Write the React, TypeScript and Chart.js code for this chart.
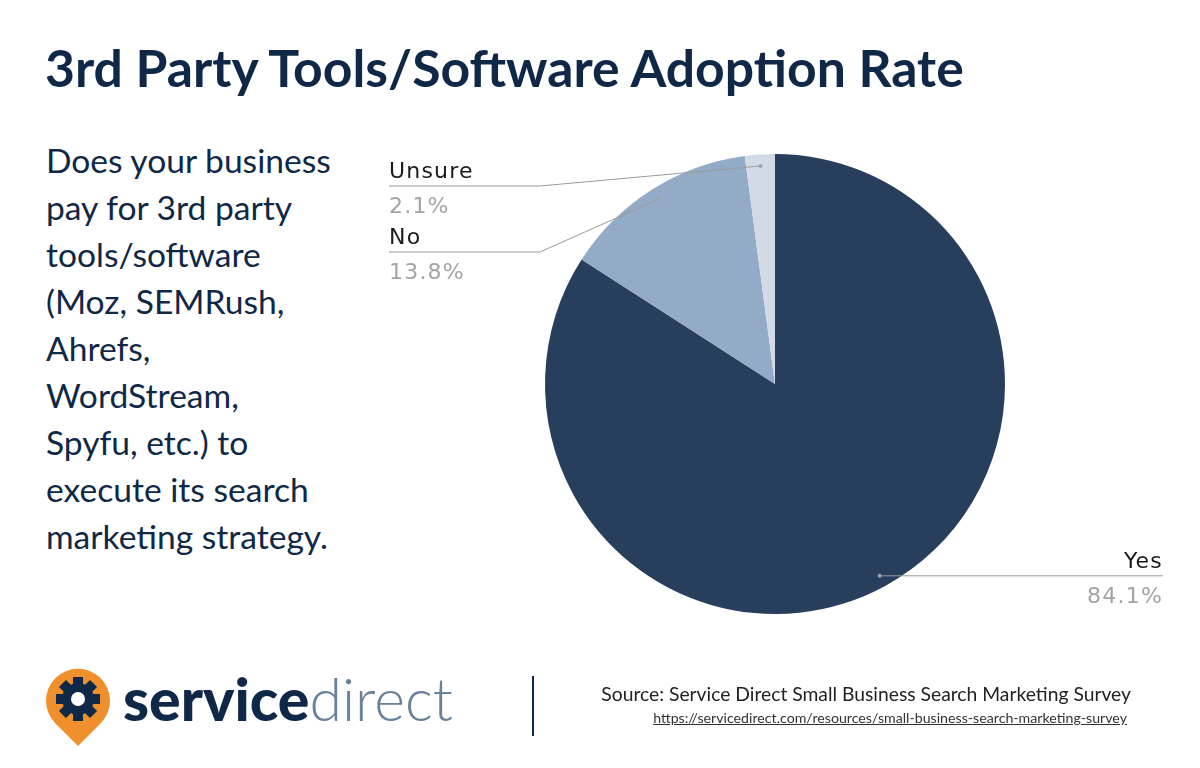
import React, { useEffect, useRef } from "react";
import { Chart, registerables } from "chart.js";

Chart.register(...registerables);

const categories = ["Yes", "No", "Unsure"];
const shares = [84.1, 13.8, 2.1];
const sliceColors = ["#273f5d", "#93abc6", "#d2dbe5"];

const titleText = "3rd Party Tools/Software Adoption Rate";
const questionLines = [
  "Does your business",
  "pay for 3rd party",
  "tools/software",
  "(Moz, SEMRush,",
  "Ahrefs,",
  "WordStream,",
  "Spyfu, etc.) to",
  "execute its search",
  "marketing strategy.",
];
const sourceText = "Source: Service Direct Small Business Search Marketing Survey";
const sourceUrl = "https://servicedirect.com/resources/small-business-search-marketing-survey";

// label layout (page pixels): side, y of horizontal leader, x of text edge / elbow
const labelLayout = [
  { side: "right", lineY: null as number | null, x: 1163, elbowX: 0 },
  { side: "left", lineY: 252, x: 389, elbowX: 540 },
  { side: "left", lineY: 186, x: 389, elbowX: 540 },
];

const navy = "#0f2847";

const leaderPlugin = {
  id: "leaderLabels",
  afterDatasetsDraw(chart: any) {
    const ctx = chart.ctx as CanvasRenderingContext2D;
    const meta = chart.getDatasetMeta(0);
    meta.data.forEach((arc: any, i: number) => {
      const p = arc.getProps(["x", "y", "startAngle", "endAngle", "outerRadius"], true);
      const mid = (p.startAngle + p.endAngle) / 2;
      const r = p.outerRadius * 0.95;
      const dx = p.x + Math.cos(mid) * r;
      const dy = p.y + Math.sin(mid) * r;
      const lay = labelLayout[i];
      const lineY = lay.lineY == null ? dy : lay.lineY;
      ctx.save();
      ctx.strokeStyle = "#9a9a9a";
      ctx.lineWidth = 1;
      ctx.beginPath();
      if (lay.side === "right") {
        ctx.moveTo(dx, lineY);
        ctx.lineTo(lay.x, lineY);
      } else {
        ctx.moveTo(lay.x, lineY);
        ctx.lineTo(lay.elbowX, lineY);
        ctx.lineTo(dx, dy);
      }
      ctx.stroke();
      ctx.fillStyle = "#9aa4ae";
      ctx.beginPath();
      ctx.arc(dx, dy, 2, 0, Math.PI * 2);
      ctx.fill();
      ctx.font = "22px 'DejaVu Sans'";
      (ctx as any).letterSpacing = "1.2px";
      ctx.textAlign = lay.side === "right" ? "right" : "left";
      ctx.textBaseline = "alphabetic";
      ctx.fillStyle = "#1a1a1a";
      ctx.fillText(categories[i], lay.x, lineY - 8);
      ctx.fillStyle = "#a3a3a3";
      ctx.fillText(shares[i].toFixed(1) + "%", lay.x, lineY + 27);
      ctx.restore();
    });
  },
};

function PieChart() {
  const ref = useRef<HTMLCanvasElement | null>(null);
  useEffect(() => {
    if (!ref.current) return;
    const chart = new Chart(ref.current, {
      type: "pie",
      data: {
        labels: categories,
        datasets: [
          {
            data: shares,
            backgroundColor: sliceColors,
            borderWidth: 0,
          },
        ],
      },
      options: {
        animation: false,
        responsive: false,
        maintainAspectRatio: false,
        layout: { padding: { left: 545, right: 195, top: 154, bottom: 154 } },
        plugins: { legend: { display: false }, tooltip: { enabled: false } },
      },
      plugins: [leaderPlugin],
    });
    return () => chart.destroy();
  }, []);
  return (
    <canvas
      ref={ref}
      width={1200}
      height={768}
      style={{ position: "absolute", left: 0, top: 0, width: 1200, height: 768 }}
    />
  );
}

function Logo() {
  const teeth = [0, 45, 90, 135, 180, 225, 270, 315];
  return (
    <div style={{ position: "absolute", left: 45, top: 666, display: "flex", alignItems: "flex-start" }}>
      <svg width="66" height="82" viewBox="0 0 66 82">
        <path d="M33 80 L10 57 A32 32 0 1 1 56 57 Z" fill="#f0902c" />
        <g transform="translate(33,33)">
          {teeth.map((a) => (
            <rect key={a} x={-5} y={-22} width={10} height={10} fill={navy} transform={`rotate(${a})`} />
          ))}
          <circle r={16} fill={navy} />
          <circle r={7} fill="#ffffff" />
        </g>
      </svg>
    </div>
  );
}

export default function App() {
  return (
    <div
      style={{
        position: "absolute",
        left: 0,
        top: 0,
        width: 1200,
        height: 768,
        background: "#ffffff",
        overflow: "hidden",
        fontFamily: "Lato, sans-serif",
      }}
    >
      <div
        style={{
          position: "absolute",
          left: 45,
          top: 32,
          fontSize: 51.7,
          fontWeight: 700,
          color: navy,
          lineHeight: "70px",
          whiteSpace: "nowrap",
        }}
      >
        {titleText}
      </div>
      <div
        style={{
          position: "absolute",
          left: 46,
          top: 137,
          fontSize: 33.6,
          lineHeight: "47px",
          color: navy,
        }}
      >
        {questionLines.map((l, i) => (
          <div key={i} style={{ whiteSpace: "nowrap" }}>
            {l}
          </div>
        ))}
      </div>
      <PieChart />
      <Logo />
      <div
        style={{
          position: "absolute",
          left: 123,
          top: 664,
          fontSize: 59,
          lineHeight: "70px",
          whiteSpace: "nowrap",
        }}
      >
        <span style={{ fontWeight: 900, color: navy }}>service</span>
        <span style={{ fontWeight: 300, color: "#6a819c" }}>direct</span>
      </div>
      <div style={{ position: "absolute", left: 532, top: 676, width: 2, height: 60, background: navy }} />
      <div
        style={{
          position: "absolute",
          right: 69,
          top: 682,
          fontSize: 19.3,
          color: "#222",
          whiteSpace: "nowrap",
          lineHeight: "24px",
        }}
      >
        {sourceText}
      </div>
      <div
        style={{
          position: "absolute",
          right: 73,
          top: 709,
          fontSize: 14.2,
          color: "#333",
          textDecoration: "underline",
          whiteSpace: "nowrap",
          lineHeight: "18px",
        }}
      >
        {sourceUrl}
      </div>
    </div>
  );
}
